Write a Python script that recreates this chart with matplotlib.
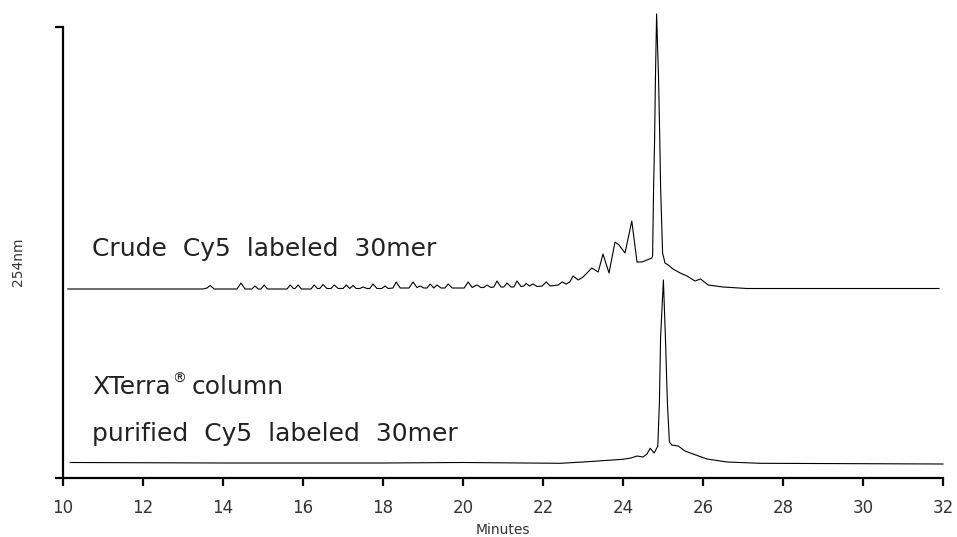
import matplotlib
matplotlib.use('Agg')
import matplotlib.pyplot as plt
import numpy as np

# ---- trace data (minutes, detector response) ----
crude_min = [10.12, 13.5, 13.6, 13.68, 13.78, 14.35, 14.45, 14.55, 14.72, 14.8, 14.88,
             14.95, 15.03, 15.11, 15.6, 15.68, 15.76, 15.8, 15.88, 15.96, 16.2, 16.28,
             16.36, 16.42, 16.5, 16.6, 16.7, 16.78, 16.88, 17.0, 17.08, 17.17, 17.25,
             17.33, 17.42, 17.5, 17.6, 17.67, 17.75, 17.85, 17.97, 18.05, 18.13, 18.25,
             18.33, 18.43, 18.65, 18.75, 18.85, 18.93, 19.02, 19.1, 19.18, 19.27, 19.35,
             19.45, 19.55, 19.63, 19.73, 20.03, 20.13, 20.23, 20.35, 20.45, 20.52, 20.6,
             20.7, 20.77, 20.85, 20.95, 21.02, 21.1, 21.2, 21.27, 21.35, 21.45, 21.52,
             21.58, 21.66, 21.75, 21.85, 21.98, 22.08, 22.18, 22.38, 22.48, 22.58, 22.67,
             22.75, 22.88, 23.0, 23.1, 23.22, 23.38, 23.5, 23.65, 23.8, 23.9, 24.05,
             24.22, 24.35, 24.47, 24.6, 24.72, 24.74, 24.765, 24.79, 24.81, 24.84, 24.89,
             24.92, 24.94, 24.99, 25.05, 25.13, 25.25, 25.43, 25.6, 25.8, 25.94, 26.13,
             26.5, 27.1, 31.9]
crude_sig = [189, 189, 190, 192.5, 189, 189, 195, 189, 189, 192, 189,
             189, 193, 189, 189, 193, 189.5, 189.5, 193, 189, 189, 193,
             189.5, 189.5, 193.5, 189.5, 189.5, 193, 189.5, 189.5, 193, 189.5, 192.5,
             189.5, 189.5, 191, 189.5, 189.5, 194, 189.5, 189.5, 192, 189.5, 190,
             196, 190, 190, 196, 190.5, 192, 190, 190, 194, 190, 193,
             190, 190, 194, 190, 190, 196, 190.5, 193, 190.5, 190.5, 193,
             190.5, 191, 197, 191, 191, 195, 191, 191, 197, 191.5, 192,
             194.5, 192, 194, 191.5, 192, 196, 192, 193, 196, 194, 196,
             202, 198, 201, 205, 210, 206, 224, 205, 236, 233, 225,
             257, 216, 216, 218, 220, 222, 291, 338, 398, 464, 398,
             338, 291, 225, 215, 213, 209, 205, 202, 197, 199, 193,
             191, 189.5, 189.5]

pure_min = [10.18, 14.0, 18.0, 20.0, 22.43, 23.0, 24.0, 24.2, 24.35, 24.5, 24.6,
            24.68, 24.78, 24.87, 24.91, 24.94, 25.01, 25.06, 25.11, 25.16, 25.22,
            25.38, 25.55, 25.75, 26.1, 26.6, 27.43, 32.0]
pure_sig = [15.5, 15, 15, 15.5, 14.7, 16, 18.7, 20, 22, 21, 24,
            29.7, 25, 32, 75, 141, 198, 141, 75, 36, 33,
            32, 27, 24, 19, 16, 14.7, 14]

x_ticks = [10, 12, 14, 16, 18, 20, 22, 24, 26, 28, 30, 32]
y_full = 451

fig = plt.figure(figsize=(9.57, 5.37), dpi=100)
ax = fig.add_axes([63 / 957, 1 - 478 / 537, 880 / 957, 468 / 537])

ax.plot(crude_min, crude_sig, color='black', lw=0.8, clip_on=False)
ax.plot(pure_min, pure_sig, color='black', lw=0.8, clip_on=False)

ax.set_xlim(10, 32)
ax.set_ylim(0, 468)
for s in ['top', 'right']:
    ax.spines[s].set_visible(False)
ax.spines['left'].set_bounds(0, y_full)
ax.spines['left'].set_linewidth(1.6)
ax.spines['bottom'].set_linewidth(1.6)
ax.set_xticks(x_ticks)
ax.set_yticks([0, y_full])
ax.set_yticklabels([])
ax.tick_params(axis='both', direction='out', length=6, width=1.6, color='black')
ax.tick_params(axis='x', labelsize=12, labelcolor='#333333', pad=9)

txt = dict(family='DejaVu Sans', fontsize=18, color='#222222')
ax.text(10.725, 222, 'Crude  Cy5  labeled  30mer', va='baseline', ha='left', **txt)
t1 = ax.text(10.725, 84, 'XTerra', va='baseline', ha='left', **txt)
ax.text(10.725, 37, 'purified  Cy5  labeled  30mer', va='baseline', ha='left', **txt)

fig.canvas.draw()
bb = t1.get_window_extent().transformed(ax.transData.inverted())
reg = ax.text(bb.x1 + 0.03, 84 + 11, '\u00ae', va='baseline', ha='left',
              family='DejaVu Sans', fontsize=10, color='#222222')
fig.canvas.draw()
bb2 = reg.get_window_extent().transformed(ax.transData.inverted())
ax.text(bb2.x1 + 0.15, 84, 'column', va='baseline', ha='left', **txt)

fig.text(503 / 957, 1 - 530 / 537, 'Minutes', ha='center', va='center',
         fontsize=10, color='#333333')
fig.text(18 / 957, 1 - 262 / 537, '254nm', ha='center', va='center', rotation=90,
         fontsize=10, color='#333333')

fig.savefig('out.png', dpi=100)
